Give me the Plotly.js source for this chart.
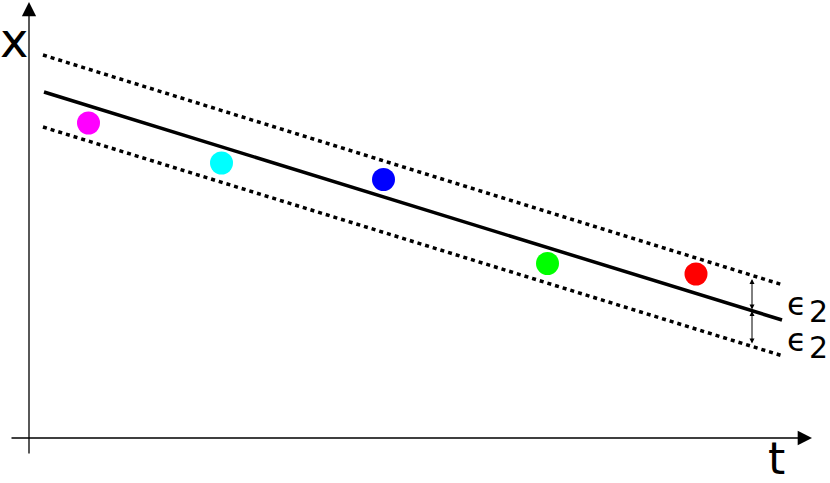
<!DOCTYPE html>
<html><head><meta charset="utf-8">
<script src="https://cdn.plot.ly/plotly-3.0.1.min.js"></script>
<style>html,body{margin:0;padding:0;background:#fff;}#chart{width:830px;height:483px;}</style>
</head><body><div id="chart"></div>
<script>
// Sample points (t, x) and colours
var pointT = [59.5, 192.5, 354.5, 518.5, 667];
var pointX = [315, 275, 258.5, 174.5, 164];
var pointColors = ['#ff00ff', '#00ffff', '#0000ff', '#00ff00', '#ff0000'];
// Fitted line and epsilon band (endpoints)
var fitT = [15, 753];
var fitX = [346, 118];
var upperT = [14, 754];
var upperX = [383, 153];
var lowerT = [14, 754];
var lowerX = [311, 82];
// Epsilon marker positions
var epsT = 723;
var epsUpper = [159, 127];
var epsLower = [127, 93];
// Axis extents
var tAxisEnd = 783, tAxisStart = -19;
var xAxisEnd = 436, xAxisStart = -17;

var traces = [
  {x: upperT, y: upperX, mode: 'lines', line: {color: '#000', width: 3.5, dash: '4px,4px'}, hoverinfo: 'skip'},
  {x: lowerT, y: lowerX, mode: 'lines', line: {color: '#000', width: 3.5, dash: '4px,4px'}, hoverinfo: 'skip'},
  {x: fitT, y: fitX, mode: 'lines', line: {color: '#000', width: 3.5}, hoverinfo: 'skip'},
  {x: pointT, y: pointX, mode: 'markers', marker: {color: pointColors, size: 23, line: {width: 0}}}
];

var fnt = 'DejaVu Sans, sans-serif';
var annotations = [
  // axes with arrows
  {x: tAxisEnd, y: 0, ax: tAxisStart, ay: 0, axref: 'x', ayref: 'y', xref: 'x', yref: 'y', text: '', showarrow: true, arrowhead: 2, arrowsize: 2.2, arrowwidth: 1.3, arrowcolor: '#000'},
  {x: 0, y: xAxisEnd, ax: 0, ay: xAxisStart, axref: 'x', ayref: 'y', xref: 'x', yref: 'y', text: '', showarrow: true, arrowhead: 2, arrowsize: 2.2, arrowwidth: 1.3, arrowcolor: '#000'},
  // epsilon double arrows
  {x: epsT, y: epsUpper[0], ax: epsT, ay: epsUpper[1], axref: 'x', ayref: 'y', xref: 'x', yref: 'y', text: '', showarrow: true, arrowhead: 2, startarrowhead: 2, arrowside: 'end+start', arrowsize: 1, startarrowsize: 1, arrowwidth: 1, arrowcolor: '#000'},
  {x: epsT, y: epsLower[0], ax: epsT, ay: epsLower[1], axref: 'x', ayref: 'y', xref: 'x', yref: 'y', text: '', showarrow: true, arrowhead: 2, startarrowhead: 2, arrowside: 'end+start', arrowsize: 1, startarrowsize: 1, arrowwidth: 1, arrowcolor: '#000'},
  // labels
  {x: -15, y: 398, xref: 'x', yref: 'y', text: 'x', showarrow: false, font: {family: fnt, size: 48, color: '#000'}},
  {x: 747, y: -20, xref: 'x', yref: 'y', text: 't', showarrow: false, font: {family: fnt, size: 44, color: '#000'}},
  {x: 779, y: 134, xref: 'x', yref: 'y', xanchor: 'right', borderpad: 0, text: 'ϵ', showarrow: false, font: {family: fnt, size: 32, color: '#000'}},
  {x: 779, y: 127, xref: 'x', yref: 'y', xanchor: 'left', borderpad: 0, text: '2', showarrow: false, font: {family: fnt, size: 30, color: '#000'}},
  {x: 779, y: 98, xref: 'x', yref: 'y', xanchor: 'right', borderpad: 0, text: 'ϵ', showarrow: false, font: {family: fnt, size: 32, color: '#000'}},
  {x: 779, y: 91, xref: 'x', yref: 'y', xanchor: 'left', borderpad: 0, text: '2', showarrow: false, font: {family: fnt, size: 30, color: '#000'}}
];

var layout = {
  width: 830, height: 483,
  margin: {l: 0, r: 0, t: 0, b: 0},
  paper_bgcolor: '#fff', plot_bgcolor: '#fff',
  showlegend: false,
  xaxis: {range: [-29, 801], visible: false, fixedrange: true},
  yaxis: {range: [-45, 438], visible: false, fixedrange: true},
  annotations: annotations
};
Plotly.newPlot('chart', traces, layout, {staticPlot: true, displayModeBar: false});
</script></body></html>
